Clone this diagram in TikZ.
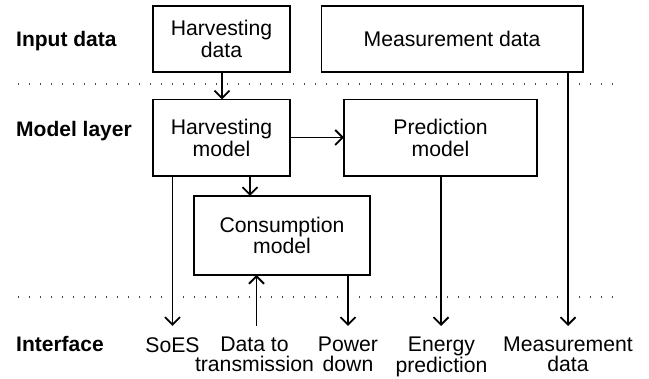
\documentclass[tikz,border=0pt]{standalone}
\usepackage{fontspec}
\setmainfont{Liberation Sans}
\usetikzlibrary{arrows.meta}
\begin{document}
\begin{tikzpicture}[x=1pt,y=-1pt,
  box/.style={draw=black,line width=1.8pt,fill=white},
  boxtext/.style={font=\fontsize{21.2}{21.7}\selectfont,align=center,inner sep=0pt},
  lab/.style={font=\fontsize{21.2}{19.6}\selectfont,align=center,inner xsep=0pt,inner ysep=11pt,anchor=north},
  layer/.style={font=\fontsize{21}{22}\selectfont\bfseries,anchor=base west,inner sep=0pt},
  sep/.style={line width=1.3pt,black!70,dash pattern=on 1.3pt off 9.7pt},
  conn/.style={line width=1.8pt,-{Straight Barb[length=7.5pt,width=15pt,line width=1.8pt]}}]
\useasboundingbox (0,0) rectangle (649,379);
\fill[white] (0,0) rectangle (649,379);
% separators
\draw[sep] (18,84) -- (620,84);
\draw[sep] (18,297) -- (620,297);
% layer labels
\node[layer] (l1) at (16,46.7) {Input data};
\node[layer] (l2) at (16,136.7) {Model layer};
\node[layer] (l3) at (16,351.7) {Interface};
% boxes
\draw[box] (153,6) rectangle (290,72);
\node[boxtext] (hd) at (221.5,39) {Harvesting\\data};
\draw[box] (321.5,6) rectangle (583,72);
\node[boxtext] (md) at (452,39) {Measurement data};
\draw[box] (153,99.5) rectangle (290,176);
\node[boxtext] (hm) at (221.5,137.7) {Harvesting\\model};
\draw[box] (344,99.5) rectangle (537,176);
\node[boxtext] (pm) at (440.5,137.7) {Prediction\\model};
\draw[box] (194,196) rectangle (370,275);
\node[boxtext] (cm) at (282,235.5) {Consumption\\model};
% named box anchors
\coordinate (hdB) at (222,72);
\coordinate (hmT) at (222,99.5);
\coordinate (hmR) at (290,137.5);
\coordinate (pmL) at (344,137.5);
\coordinate (hmB1) at (172.5,176);
\coordinate (hmB2) at (250,176);
\coordinate (cmT) at (250,196);
\coordinate (cmB1) at (256.5,275);
\coordinate (cmB2) at (348,275);
\coordinate (pmB) at (441,176);
\coordinate (mdB) at (568,72);
% bottom labels
\node[lab] (soes) at (172.5,326) {SoES};
\node[lab] (dtt) at (254.5,326) {Data to\\transmission};
\node[lab] (pd) at (348,326) {Power\\down};
\node[lab] (ep) at (441.5,326) {Energy\\prediction};
\node[lab] (mdo) at (568,326) {Measurement\\data};
\coordinate (soesT) at (172.5,326);
\coordinate (dttT) at (256.5,326);
\coordinate (pdT) at (348,326);
\coordinate (epT) at (441,326);
\coordinate (mdoT) at (568,326);
% connectors
\draw[conn] (hdB) -- (hmT);
\draw[conn] (hmR) -- (pmL);
\draw[conn] (hmB2) -- (cmT);
\draw[conn] (hmB1) -- (soesT);
\draw[conn] (dttT) -- (cmB1);
\draw[conn] (cmB2) -- (pdT);
\draw[conn] (pmB) -- (epT);
\draw[conn] (mdB) -- (mdoT);
\end{tikzpicture}
\end{document}
